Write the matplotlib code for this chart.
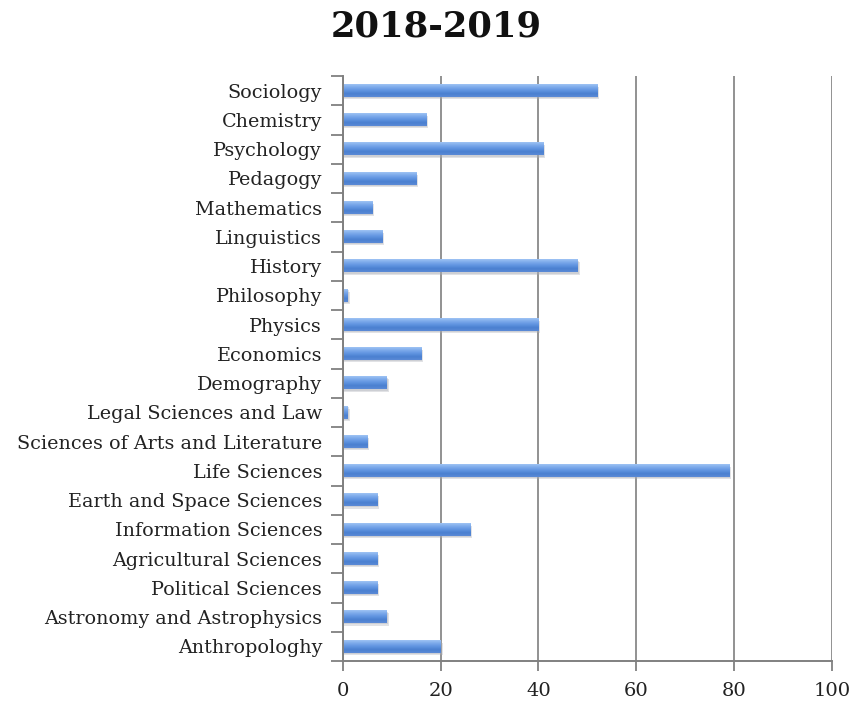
import matplotlib
matplotlib.use("Agg")
import matplotlib.pyplot as plt
import numpy as np
from matplotlib.colors import LinearSegmentedColormap

# disciplines listed bottom to top
disciplines = [
    "Anthropologhy", "Astronomy and Astrophysics", "Political Sciences",
    "Agricultural Sciences", "Information Sciences", "Earth and Space Sciences",
    "Life Sciences", "Sciences of Arts and Literature", "Legal Sciences and Law",
    "Demography", "Economics", "Physics", "Philosophy", "History",
    "Linguistics", "Mathematics", "Pedagogy", "Psychology", "Chemistry",
    "Sociology",
]
counts = [20, 9, 7, 7, 26, 7, 79, 5, 1, 9, 16, 40, 1, 48, 8, 6, 15, 41, 17, 52]
x_ticks = [0, 20, 40, 60, 80, 100]
title = "2018-2019"

plt.rcParams["font.family"] = ["DejaVu Serif"]

fig = plt.figure(figsize=(8.5, 7.05), dpi=100)
ax = fig.add_axes([0.4035, 0.0624, 0.575, 0.8296])

y = np.arange(len(disciplines))
h = 0.42

# excel-like vertical gradient for each bar
grad_cmap = LinearSegmentedColormap.from_list(
    "bar", ["#5a8ad6", "#4a80d0", "#5f93e0", "#7aa8ea", "#9dc2f3"])
grad = np.linspace(0, 1, 32).reshape(-1, 1)
for yi, v in zip(y, counts):
    # soft shadow below each bar
    ax.barh(yi - 0.08, v + 0.3, height=h, left=0.1, color="#a9adb5",
            alpha=0.35, zorder=2, linewidth=0)
    ax.barh(yi - 0.04, v + 0.15, height=h, left=0.05, color="#a9adb5",
            alpha=0.35, zorder=2, linewidth=0)
    ax.imshow(grad, cmap=grad_cmap, aspect="auto", origin="lower",
              extent=[0, v, yi - h / 2, yi + h / 2], zorder=3)

ax.set_xlim(0, 100)
ax.set_ylim(-0.5, len(disciplines) - 0.5)
ax.set_xticks(x_ticks)
ax.set_xticklabels([str(t) for t in x_ticks], fontsize=14, color="#222222")
ax.set_yticks(y)
ax.set_yticklabels(disciplines, fontsize=13.8, color="#222222")
ax.set_yticks(np.arange(len(disciplines) + 1) - 0.5, minor=True)

ax.tick_params(axis="y", which="major", length=0, pad=15)
ax.tick_params(axis="y", which="minor", length=9, width=1.3, color="#808080")
ax.tick_params(axis="x", length=7, width=1.3, color="#808080", pad=8)

ax.grid(axis="x", color="#7f7f7f", linewidth=1.4, alpha=0.85, zorder=5)
for side in ("top", "right"):
    ax.spines[side].set_visible(False)
for side in ("left", "bottom"):
    ax.spines[side].set_color("#808080")
    ax.spines[side].set_linewidth(1.4)
    ax.spines[side].set_zorder(6)

fig.text(0.513, 0.963, title, ha="center", va="center", fontsize=25.5,
         fontweight="bold", color="#111111")

fig.savefig("out.png", dpi=100)
